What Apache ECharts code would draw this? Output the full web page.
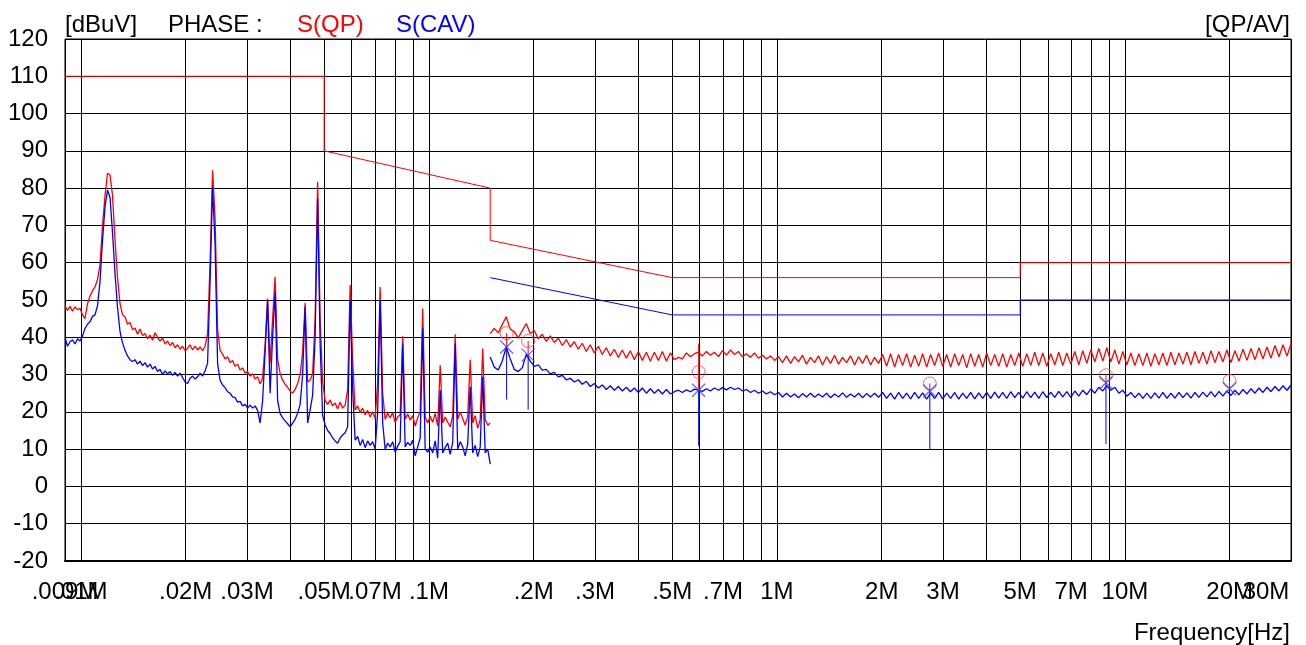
<!DOCTYPE html>
<html><head><meta charset="utf-8">
<script src="https://cdn.jsdelivr.net/npm/echarts@6/dist/echarts.min.js"></script>
<style>html,body{margin:0;padding:0;background:#fff}#c{width:1306px;height:645px}</style>
</head><body><div id="c"></div>
<script>
// ---- axis ticks ----
const yTicks = [-20,-10,0,10,20,30,40,50,60,70,80,90,100,110,120];
const xTickFreqs = [0.009,0.01,0.02,0.03,0.05,0.07,0.1,0.2,0.3,0.5,0.7,1,2,3,5,7,10,20,30];
const xTickLabels = ['.009M','.01M','.02M','.03M','.05M','.07M','.1M','.2M','.3M','.5M','.7M','1M','2M','3M','5M','7M','10M','20M','30M'];
const gridFreqs = [0.009,0.01,0.02,0.03,0.04,0.05,0.06,0.07,0.08,0.09,0.1,0.2,0.3,0.4,0.5,0.6,0.7,0.8,0.9,1,2,3,4,5,6,7,8,9,10,20,30];

// ---- sweep bands (MHz), readings evenly spaced in log frequency ----
const bandA = [0.009, 0.15];
const bandB = [0.15, 30];

const qpBandA = [
48.5,47.2,48.3,47.0,48.2,47.4,47.8,46.0,45.0,49.0,
51.0,52.5,53.5,55.5,59.5,70.0,78.0,84.0,83.5,78.0,
66.0,56.0,49.0,46.0,45.5,43.5,44.0,42.0,42.5,40.8,
42.2,40.5,41.0,39.6,40.6,39.2,41.2,40.0,39.0,39.8,
38.2,39.0,37.8,38.6,37.2,38.0,36.8,37.6,36.4,37.0,
38.0,36.6,37.6,36.6,37.4,36.4,37.6,41.0,60.0,84.8,
72.0,42.0,36.5,35.5,34.2,34.8,33.2,33.8,32.2,32.8,
31.2,31.8,30.4,30.8,29.6,30.2,28.8,29.4,27.5,29.0,
38.0,50.4,33.0,45.0,56.2,34.0,30.3,28.5,27.4,26.6,
25.6,25.0,26.0,27.6,30.0,36.0,49.2,28.0,28.5,30.3,
45.0,81.7,45.0,28.0,23.0,22.0,23.2,21.6,22.4,20.8,
22.6,21.0,21.8,26.0,54.0,34.0,20.5,21.6,19.8,21.0,
19.2,20.4,18.6,20.0,18.2,28.0,53.5,25.0,18.0,19.6,
18.4,19.8,17.2,18.6,19.2,40.3,18.0,19.4,17.8,19.0,
16.2,18.4,20.0,47.7,18.6,17.0,18.8,17.2,19.6,16.2,
32.5,17.0,18.6,17.2,16.0,19.0,40.8,18.0,20.0,18.2,
16.4,18.8,34.0,17.0,19.0,15.6,18.0,37.0,18.0,16.4,
17.0];

const cavBandA = [
40.0,37.6,38.8,39.3,38.2,39.6,39.0,40.3,42.4,43.5,
44.2,45.6,46.0,48.5,55.0,66.0,75.0,79.5,77.5,68.0,
57.0,48.0,41.5,38.5,36.5,35.0,34.0,33.5,34.0,32.8,
33.6,32.4,33.2,32.0,32.8,31.5,32.2,30.8,31.4,30.0,
31.0,30.2,30.8,29.8,30.6,29.6,30.4,29.2,28.0,27.6,
29.0,29.6,28.8,29.4,30.4,29.6,31.0,33.0,55.0,80.3,
65.0,33.0,28.5,27.2,26.5,25.4,25.0,24.0,23.8,22.6,
22.8,21.6,22.0,21.0,21.8,21.0,21.6,20.4,17.0,23.0,
36.0,50.0,25.0,40.0,52.2,23.0,19.6,18.4,17.6,16.8,
16.0,17.0,18.0,19.6,22.0,30.0,48.2,17.0,20.5,24.5,
40.0,77.2,38.0,19.0,16.5,15.0,14.2,13.0,12.2,11.6,
13.0,13.8,14.4,16.0,50.0,26.0,12.4,13.4,11.0,12.6,
10.4,12.2,11.0,12.0,10.0,20.0,50.0,17.0,10.0,11.6,
10.6,12.0,9.2,10.8,12.0,38.3,10.6,11.8,11.0,12.4,
8.2,10.6,13.0,42.4,10.0,9.2,10.6,9.0,12.2,7.6,
25.8,9.0,10.4,11.6,8.6,11.8,38.3,10.0,12.0,10.6,
8.2,11.4,26.7,9.0,11.0,8.0,10.6,29.4,9.0,10.0,
6.0];

const qpBandB = [
41.0,42.4,41.2,43.4,45.5,42.2,41.5,39.8,41.8,43.7,
41.0,41.8,39.6,40.8,38.9,40.4,38.6,39.8,37.8,39.4,
37.4,38.8,36.8,38.4,36.2,38.0,35.8,37.6,35.4,37.2,
35.0,36.8,34.6,36.6,34.4,36.4,34.0,36.2,33.8,36.0,
33.6,36.0,33.8,36.2,33.6,35.8,34.0,34.6,34.2,35.8,
34.8,35.6,36.0,35.0,36.2,35.2,36.0,34.8,36.4,35.2,
36.6,35.4,36.2,34.8,35.6,34.6,35.8,34.4,35.2,34.2,
35.0,33.8,34.8,33.2,35.0,33.0,34.8,33.4,35.2,32.8,
34.6,33.2,35.0,32.6,34.8,33.0,35.2,32.8,34.6,33.2,
35.0,32.6,34.8,33.0,35.2,32.6,34.6,33.0,35.4,32.2,
35.6,32.0,35.4,32.4,35.6,32.0,35.2,32.2,35.6,32.0,
35.4,32.4,35.8,32.2,35.4,32.0,35.6,32.4,35.4,31.8,
35.6,32.2,35.4,32.0,35.8,32.4,35.4,32.2,35.6,32.0,
35.4,32.4,35.8,32.2,35.6,32.4,36.0,32.4,35.8,32.2,
35.6,32.6,36.0,32.4,35.8,32.8,36.2,32.6,36.4,33.0,
36.6,33.4,37.0,33.6,37.2,33.4,36.6,32.8,36.2,32.6,
35.8,32.4,35.6,32.4,35.8,32.2,35.6,32.6,35.8,32.4,
36.0,32.6,35.8,32.8,36.0,32.6,36.2,33.0,36.0,32.8,
36.4,33.2,36.2,33.4,36.6,33.2,36.4,33.6,36.8,33.8,
37.0,34.0,37.2,34.2,37.4,34.4,37.8,34.8,38.0,35.0,
38.2];

const cavBandB = [
34.7,32.0,31.2,33.6,37.4,34.2,31.4,30.8,31.8,35.4,
33.6,32.2,32.6,31.2,31.4,30.2,30.6,29.4,29.8,28.6,
29.0,28.0,28.6,27.4,28.2,26.8,27.6,26.4,27.2,26.0,
27.0,25.8,26.8,25.6,26.6,25.4,26.4,25.2,26.4,25.0,
26.2,25.0,26.0,24.8,26.0,24.8,25.4,25.8,25.2,25.9,
25.4,26.1,25.8,25.5,26.2,25.6,26.4,25.8,26.5,25.9,
26.6,26.0,26.4,25.6,26.0,25.2,25.8,25.0,25.6,24.8,
25.4,24.6,25.2,24.0,25.0,24.0,24.8,23.8,24.9,24.0,
25.0,23.9,24.8,24.0,25.0,23.8,24.8,24.0,25.1,23.9,
24.8,24.0,25.0,23.8,24.9,24.0,25.0,23.9,25.2,23.6,
25.0,23.4,25.2,23.6,25.0,23.5,25.2,23.6,25.1,23.4,
25.0,23.6,25.2,23.5,25.0,23.6,25.2,23.4,25.0,23.6,
25.2,23.5,25.1,23.6,25.2,23.6,25.3,23.7,25.2,23.6,
25.4,23.8,25.2,23.7,25.4,23.8,25.3,23.6,25.4,23.8,
25.3,23.9,25.5,24.0,25.4,23.9,25.6,24.2,25.8,24.6,
26.2,25.0,26.6,25.6,27.0,25.8,26.6,25.0,25.8,24.2,
25.2,23.8,25.0,23.6,25.0,23.6,25.1,23.7,25.2,23.6,
25.0,23.7,25.2,23.8,25.1,23.7,25.2,23.9,25.3,24.0,
25.4,24.0,25.5,24.2,25.6,24.4,25.8,24.6,26.0,24.8,
26.2,25.0,26.4,25.2,26.6,25.4,26.8,25.6,27.0,25.8,
27.2];

// ---- limit lines [MHz, dBuV] ----
const qpLimit = [[0.009,110],[0.05,110],[0.05,90],[0.15,80],[0.15,66],[0.5,56],[5,56],[5,60],[30,60]];
const avLimit = [[0.15,56],[0.5,46],[5,46],[5,50],[30,50]];

// ---- markers ----
const markerFreqs = [0.1672,0.1928,0.5957,2.75,8.82,19.98];
const markerQP    = [41.1,39.0,30.7,27.6,29.8,28.3];
const markerCAV   = [37.4,35.2,25.8,25.6,27.8,26.2];
const stemTopQP   = [41.1,39.0,38.3,27.6,29.8,28.3];
const stemBottomCAV = [23.3,20.6,10.9,9.9,11.4,9.9];

// ---- build ----
const FONT = '"Liberation Sans", Arial, Helvetica, sans-serif';
const lg = Math.log10;
const RED = '#ff0000', BLUE = '#0000ff';
function sweep(vals, band){ const a=lg(band[0]), b=lg(band[1]), n=vals.length-1; return vals.map((v,i)=>[a+(b-a)*i/n, v]); }
function pts(list){ return list.map(p=>[lg(p[0]), p[1]]); }
function lineS(data, color, width, z){ return {type:'line', data, symbol:'none', lineStyle:{color, width}, itemStyle:{color}, z, silent:true, animation:false}; }

const series = [];
series.push(lineS(pts(qpLimit), RED, 1, 2));
series.push(lineS(pts(avLimit), BLUE, 1, 2));
series.push(lineS(sweep(qpBandA, bandA), RED, 1.3, 3));
series.push(lineS(sweep(qpBandB, bandB), RED, 1.3, 3));
series.push(lineS(sweep(cavBandA, bandA), BLUE, 1.3, 4));
series.push(lineS(sweep(cavBandB, bandB), BLUE, 1.3, 4));
markerFreqs.forEach((f,k)=>{
  series.push(lineS([[lg(f), stemTopQP[k]],[lg(f), markerCAV[k]]], RED, 1, 5));
  series.push(lineS([[lg(f), markerCAV[k]],[lg(f), stemBottomCAV[k]]], BLUE, 1, 5));
});
series.push({type:'scatter', data: markerFreqs.map((f,k)=>[lg(f), markerQP[k]]), symbol:'circle', symbolSize:13,
  itemStyle:{color:'rgba(0,0,0,0)', borderColor:'#ff3b3b', borderWidth:1}, z:6, silent:true});
series.push({type:'scatter', data: markerFreqs.map((f,k)=>[lg(f), markerCAV[k]]), symbol:'path://M0,0L10,10M10,0L0,10', symbolSize:13,
  itemStyle:{color:'none', borderColor:'#3b3bff', borderWidth:1.2}, z:6, silent:true});

function labelFor(v){ let best='', d=1e9; xTickFreqs.forEach((f,k)=>{ const dd=Math.abs(lg(f)-v); if(dd<d){d=dd; best=xTickLabels[k];} }); return best; }

const txt = (color)=>({fontSize:24, fontWeight:'normal', color, fontFamily:FONT});
const xMin = lg(0.009), xMax = lg(30);
const inner = xTickFreqs.slice(1, -1).map(lg);
const ends = [xMin + 1e-9, xMax - 1e-9];
const labelBase = {show:true, hideOverlap:false, margin:19, fontSize:24, color:'#000', fontFamily:FONT,
  formatter: v => { const s = labelFor(v); return s==='30M' ? '{r|30M}' : s; },
  rich:{ r:{ padding:[0,50,0,0], fontSize:24, color:'#000', fontFamily:FONT } } };

const chart = echarts.init(document.getElementById('c'), null, {renderer:'canvas'});
chart.setOption({
  animation:false,
  backgroundColor:'#fff',
  title:[
    {text:'[dBuV]', left:65, top:13, padding:0, textStyle:txt('#000')},
    {text:'PHASE :', left:168, top:13, padding:0, textStyle:txt('#000')},
    {text:'S(QP)', left:297, top:13, padding:0, textStyle:txt(RED)},
    {text:'S(CAV)', left:396, top:13, padding:0, textStyle:txt(BLUE)},
    {text:'[QP/AV]', right:16, top:13, padding:0, textStyle:txt('#000')},
    {text:'Frequency[Hz]', right:16, top:621, padding:0, textStyle:txt('#000')}
  ],
  grid:{left:65, right:15, top:39, bottom:84, outerBoundsMode:'none', containLabel:false,
        show:true, borderColor:'#000', borderWidth:1, backgroundColor:'transparent'},
  xAxis:[{
    type:'value', min:xMin, max:xMax,
    axisLine:{show:true, onZero:false, lineStyle:{color:'#000', width:2}},
    axisTick:{show:false, customValues: gridFreqs.map(lg)},
    splitLine:{show:true, lineStyle:{color:'#000', width:1}},
    axisLabel:Object.assign({customValues: inner, showMinLabel:true, showMaxLabel:true}, labelBase)
  },{
    type:'value', min:xMin, max:xMax, position:'bottom',
    axisLine:{show:false}, axisTick:{show:false}, splitLine:{show:false},
    axisLabel:Object.assign({customValues: ends, showMinLabel:true, showMaxLabel:true}, labelBase)
  }],
  yAxis:{
    type:'value', min:-20, max:120, interval:10,
    axisLine:{show:true, lineStyle:{color:'#000', width:1}},
    axisTick:{show:false},
    splitLine:{show:true, lineStyle:{color:'#000', width:1}},
    axisLabel:{margin:17, fontSize:24, color:'#000', fontFamily:FONT, hideOverlap:false,
      showMinLabel:true, showMaxLabel:true, padding:[4,0,0,0],
      formatter: v => (yTicks.indexOf(v) >= 0 ? String(v) : '')}
  },
  series
});
</script></body></html>
